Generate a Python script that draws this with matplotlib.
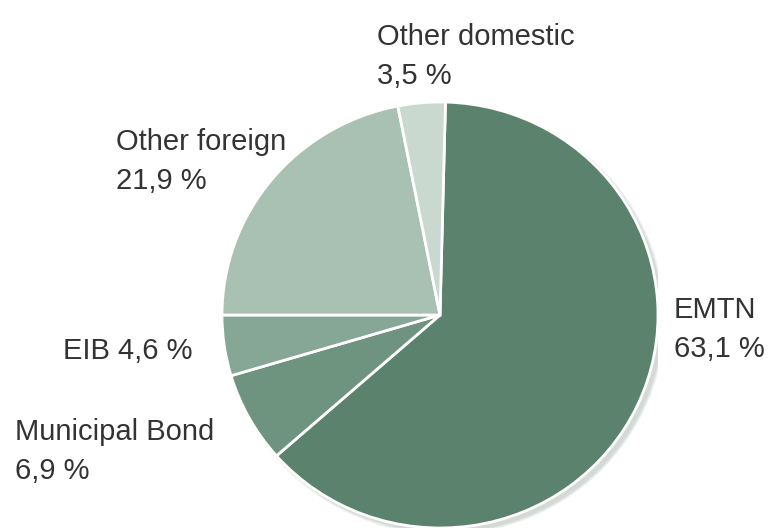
import matplotlib.pyplot as plt
from matplotlib.patches import Ellipse

plt.rcParams['font.family'] = ['Liberation Sans', 'DejaVu Sans']

# funding sources, clockwise from the top
labels = ['EMTN', 'Municipal Bond', 'EIB', 'Other foreign', 'Other domestic']
shares = [63.1, 6.9, 4.6, 21.9, 3.5]
colors = ['#5a826c', '#6e937f', '#86a796', '#a9c1b3', '#c9d9d0']

# label text and where it sits (figure fractions, top-left anchor)
label_text = ['EMTN\n63,1 %', 'Municipal Bond\n6,9 %', 'EIB 4,6 %',
              'Other foreign\n21,9 %', 'Other domestic\n3,5 %']
label_pos = [(0.872, 0.443), (0.020, 0.215), (0.082, 0.366),
             (0.150, 0.760), (0.488, 0.956)]

W, H = 773, 532
fig = plt.figure(figsize=(W / 100, H / 100), dpi=100)

# pie centre (440, 315) px, radii 218 x 213 px
cx, cy, rx, ry = 440, 315, 218, 213
ax = fig.add_axes([(cx - rx) / W, (H - cy - ry) / H, 2 * rx / W, 2 * ry / H])

# soft shadow down and to the right of the pie
for k in range(4):
    ax.add_patch(Ellipse((0.02, -0.02), 2.0 + 0.008 * k, 2.0 + 0.008 * k,
                         facecolor='#3c5a49', alpha=0.06, lw=0, zorder=0))

# EIB ends exactly on the horizontal at 180 degrees
start = 180 + 360 * sum(shares[:3]) / sum(shares)
wedges, _ = ax.pie(shares, colors=colors, startangle=start, counterclock=False,
                   radius=1.0,
                   wedgeprops=dict(edgecolor='white', linewidth=2.0))
for w in wedges:
    w.set_zorder(2)

# darker rim on the right-hand side of the large slice
ax.pie([shares[0], 100 - shares[0]], colors=['#4b725c', 'none'],
       startangle=start, counterclock=False, radius=1.0,
       wedgeprops=dict(width=0.05, edgecolor='none', alpha=0.5))

ax.set_aspect('auto')
ax.set_xlim(-1, 1)
ax.set_ylim(-1, 1)
ax.axis('off')

for txt, (x, y) in zip(label_text, label_pos):
    fig.text(x, y, txt, fontsize=21, color='#333333', va='top', ha='left',
             linespacing=1.5)

fig.savefig('out.png', dpi=100)
